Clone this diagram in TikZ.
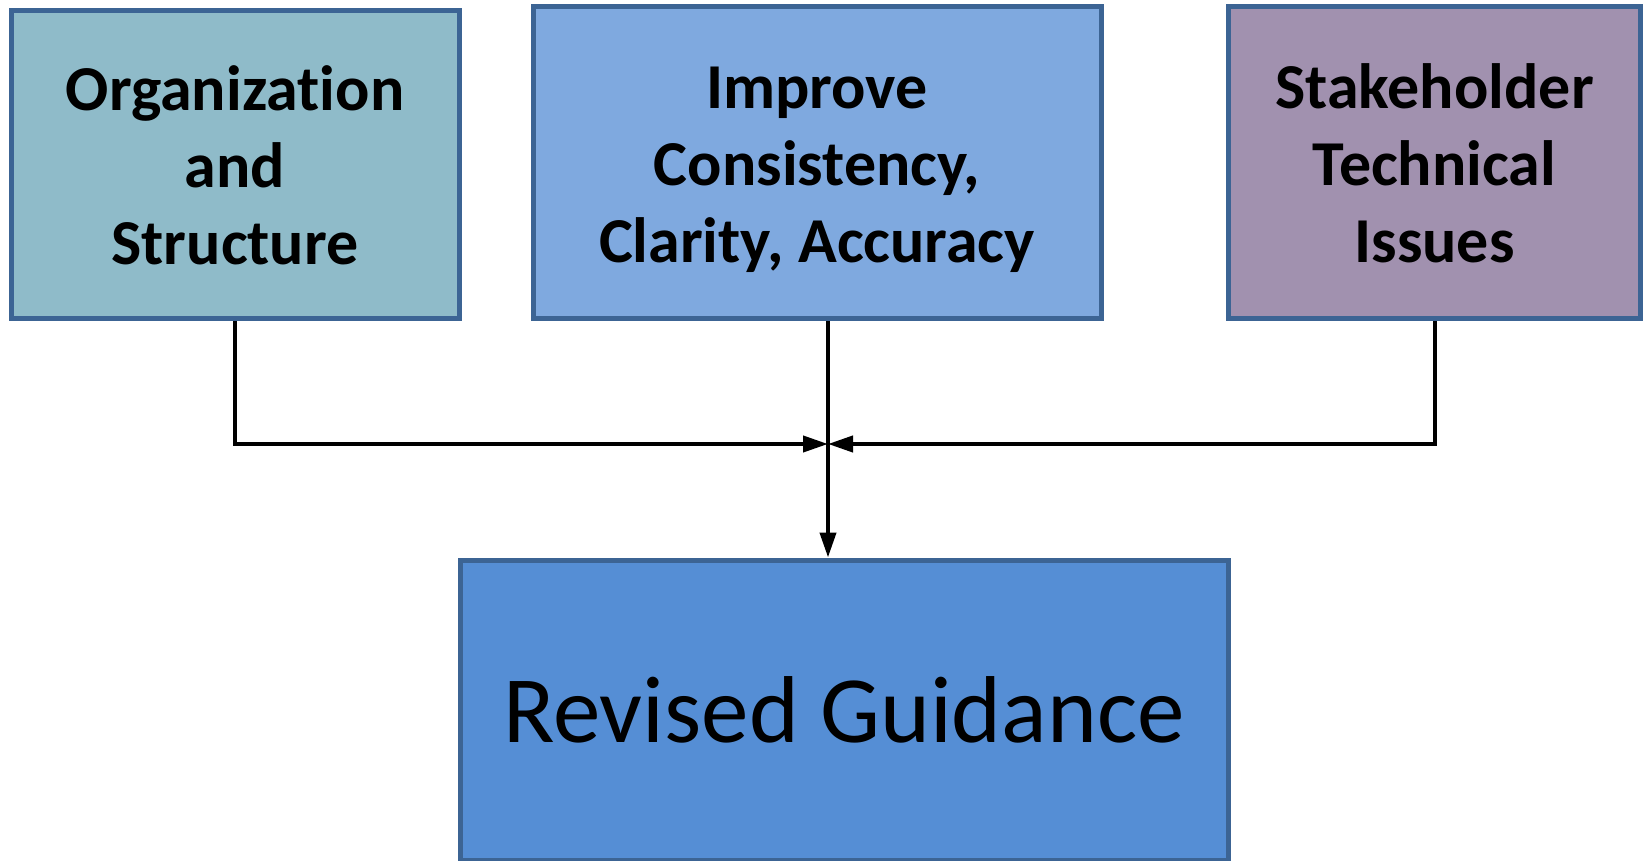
\documentclass[tikz,border=0pt]{standalone}
\usepackage{fontspec}
\setmainfont[Ligatures=NoCommon]{Carlito}
\usetikzlibrary{arrows.meta}

\definecolor{boxline}{HTML}{3C6494}
\definecolor{orgfill}{HTML}{8FBBC9}
\definecolor{improvefill}{HTML}{7FA9DF}
\definecolor{stakefill}{HTML}{A191AF}
\definecolor{revisedfill}{HTML}{558ED5}

\newcommand\topstrut{\rule{0pt}{34.4pt}}

\tikzset{
  topbox/.style={draw=boxline, line width=2.5pt, align=center,
    font=\bfseries\fontsize{32}{38.5}\selectfont},
  link/.style={line width=2pt, -{Triangle[length=12.5pt,width=8pt]}}
}

\begin{document}
\begin{tikzpicture}[x=0.5pt, y=-0.5pt]
    \useasboundingbox (0,0) rectangle (1644,861);
    \node[topbox, fill=orgfill, minimum width=224pt, minimum height=154pt] (org) at (235,165) {\topstrut Organization\\and\\Structure\strut};
    \node[topbox, fill=improvefill, minimum width=284pt, minimum height=156pt] (improve) at (817,163) {\topstrut Improve\\Consistency,\\Clarity, Accuracy\strut};
    \node[topbox, fill=stakefill, minimum width=206pt, minimum height=156pt] (stake) at (1434.5,163) {\topstrut Stakeholder\\Technical\\Issues\strut};
    \node[draw=boxline, line width=2.5pt, fill=revisedfill, minimum width=384pt, minimum height=150pt,
      font=\fontsize{47.5}{57}\selectfont] (revised) at (844,710) {Revised Guidance};
    \coordinate (join) at (828,444);
    \draw[link] (org.south) |- (join);
    \draw[link] (stake.south) |- (join);
    \draw[link] (improve.south -| join) -- (join |- revised.north);
    %\draw (join) circle (3);
\end{tikzpicture}
\end{document}
